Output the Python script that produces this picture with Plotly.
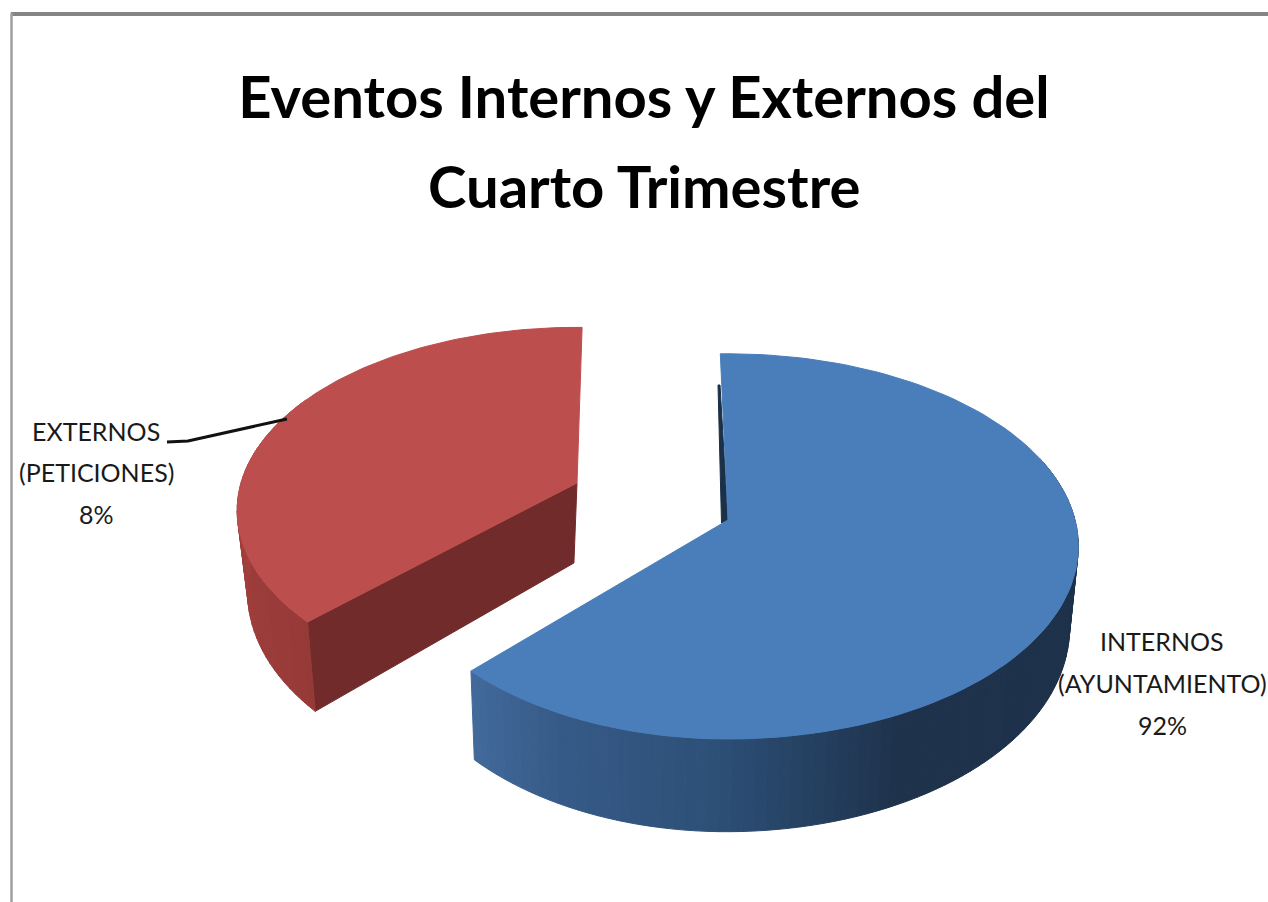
import math
import plotly.graph_objects as go

# ---- data ----
TITLE_LINES = ["Eventos Internos y Externos del", "Cuarto Trimestre"]
categories = ["INTERNOS (AYUNTAMIENTO)", "EXTERNOS (PETICIONES)"]
printed_percent = ["92%", "8%"]
# share of the circle as it is actually drawn in the picture (the printed labels differ)
drawn_share = [62.2, 37.8]

W, H = 1268, 902
N = 120


def project(theta_deg, g, r=1.0, depth=0.0):
    t = math.radians(theta_deg)
    u, v = r * math.sin(t), -r * math.cos(t)
    s = 1.0 / (1.0 - g["k"] * v)
    a = g["a"] if u >= 0 else g["a_left"]
    x = g["cx"] + a * u * s
    y = g["cy"] + g["b"] * v * s
    if depth:
        d = g["d"] * s ** g["p"]
        x = x + (g["vx"] - x) * g["conv"]
        y = y + d
    return x, y


def arc(t0, t1, g, depth=0.0):
    return [project(t0 + (t1 - t0) * i / N, g, 1.0, depth) for i in range(N + 1)]


def lerp_color(stops, v):
    for (p0, c0), (p1, c1) in zip(stops, stops[1:]):
        if v <= p1:
            f = (v - p0) / (p1 - p0)
            return "rgb(%d,%d,%d)" % tuple(round(c0[i] + (c1[i] - c0[i]) * f) for i in range(3))
    return "rgb(%d,%d,%d)" % stops[-1][1]


fig = go.Figure()


def poly(pts, color, name=None):
    xs = [p[0] for p in pts] + [pts[0][0]]
    ys = [p[1] for p in pts] + [pts[0][1]]
    fig.add_trace(go.Scatter(x=xs, y=ys, mode="lines", fill="toself", fillcolor=color,
                             line=dict(color=color, width=1), hoverinfo="skip" if name is None else "name",
                             name=name or "", showlegend=False))


blue_end = drawn_share[0] * 3.6

blue = dict(cx=728, cy=520, a=347, a_left=334, b=189, k=0.137, d=80, p=1.0, vx=640, conv=0.02)
red = dict(cx=577, cy=483, a=336, a_left=336, b=179, k=0.15, d=80, p=1.0, vx=500, conv=0.04)

# red slice
red_start = blue_end + 2
red_end = 361
red_wall = [(0.0, (172, 68, 65)), (1.0, (150, 58, 56))]
a0 = project(0, red, 0.0, 0)
a1 = project(0, red, 0.0, 1)
c0 = project(red_start, red, 1.0, 0)
c1 = project(red_start, red, 1.0, 1)
poly([a0, c0, c1, a1], "#722B2B")
M = 40
wall_t_end = 300
for i in range(M):
    t0 = red_start + (wall_t_end - red_start) * i / M
    t1 = red_start + (wall_t_end - red_start) * (i + 1) / M
    col = lerp_color(red_wall, 1 - i / M)
    poly([project(t0, red), project(t1, red), project(t1, red, 1, 1), project(t0, red, 1, 1)], col)
poly([a0] + arc(red_start, red_end, red), "#BC4F4D", categories[1])

# blue slice: inner sliver, outer wall with gradient, then top
ba0 = project(0, blue, 0.0, 0)
poly([(ba0[0] - 10, ba0[1] - 135), (ba0[0] - 6.5, ba0[1] + 3), ba0, (ba0[0] - 8, ba0[1] - 135)], "#1C3048")
wall_stops = [(0.0, (28, 48, 72)), (0.55, (30, 50, 76)), (0.73, (45, 80, 120)), (0.88, (54, 90, 135)), (1.0, (66, 106, 155))]
M = 90
w0, w1 = 70, blue_end
for i in range(M):
    t0 = w0 + (w1 - w0) * i / M
    t1 = w0 + (w1 - w0) * (i + 1) / M
    poly([project(t0, blue), project(t1, blue), project(t1, blue, 1, 1), project(t0, blue, 1, 1)],
         lerp_color(wall_stops, (i + .5) / M))
poly([ba0] + arc(-1.5, blue_end, blue), "#4A7EBB", categories[0])

# leader line
fig.add_trace(go.Scatter(x=[167, 188, 287], y=[442, 441, 419], mode="lines",
                         line=dict(color="#111111", width=3), hoverinfo="skip", showlegend=False))

# data labels and second title line
LABEL_FONT = dict(family="Lato", size=25, color="#1a1a1a")
label_lines = [("INTERNOS", 1162, 641), ("(AYUNTAMIENTO)", 1162, 683), (printed_percent[0], 1162, 725),
               ("EXTERNOS", 96, 431), ("(PETICIONES)", 96, 472), (printed_percent[1], 96, 514)]
annotations = [dict(x=x, y=y, text=t, showarrow=False, xref="x", yref="y", xanchor="center", yanchor="middle",
                    font=LABEL_FONT) for t, x, y in label_lines]
TITLE_FONT = dict(family="Lato", size=58, color="#000000", weight="bold")
annotations.append(dict(x=644, y=185, text=TITLE_LINES[1], showarrow=False, xref="x", yref="y",
                        xanchor="center", yanchor="middle", font=TITLE_FONT))

fig.update_layout(
    width=W, height=H, margin=dict(l=0, r=0, t=0, b=0),
    paper_bgcolor="white", plot_bgcolor="white", showlegend=False,
    title=dict(text=TITLE_LINES[0], x=644 / W, xanchor="center", y=1 - 98 / H, yanchor="middle",
               font=TITLE_FONT),
    xaxis=dict(range=[0, W], visible=False, fixedrange=True),
    yaxis=dict(range=[H, 0], visible=False, fixedrange=True),
    annotations=annotations,
    shapes=[
        dict(type="line", x0=11, x1=W, y0=14, y1=14, line=dict(color="#858585", width=4), layer="above"),
        dict(type="line", x0=11.5, x1=11.5, y0=13, y1=H, line=dict(color="#a0a0a0", width=2.5), layer="above"),
    ],
)
fig.write_html("out.html", config=dict(displayModeBar=False), post_script="document.body.style.margin='0';")
